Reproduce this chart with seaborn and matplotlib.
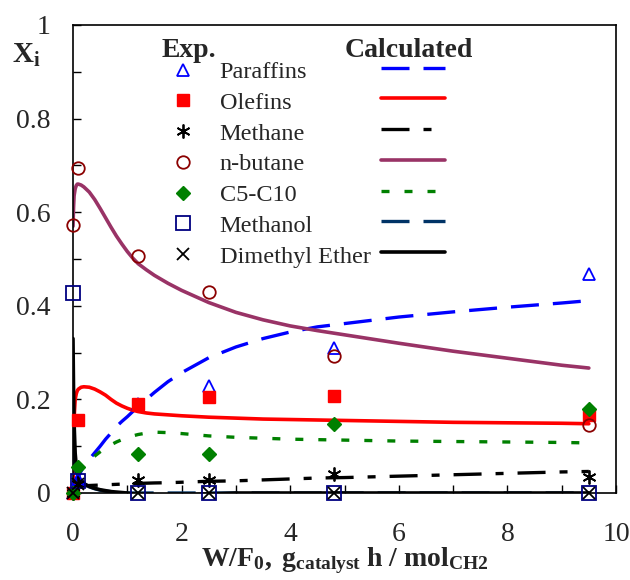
import matplotlib
matplotlib.use("Agg")
import matplotlib.pyplot as plt
from matplotlib.lines import Line2D
from matplotlib.ticker import MultipleLocator, FuncFormatter
import seaborn as sns
import pandas as pd

# ---------------- data ----------------
species = ["Paraffins", "Olefins", "Methane", "n-butane", "C5-C10", "Methanol", "Dimethyl Ether"]

# experimental points
x_exp = [0.0, 0.1, 1.2, 2.5, 4.8, 9.5]
exp_paraffins = [0.0, 0.03, 0.19, 0.229, 0.31, 0.468]
exp_olefins = [0.0, 0.155, 0.19, 0.205, 0.207, 0.167]
exp_methane = [0.0, 0.02, 0.028, 0.028, 0.04, 0.034]
exp_nbutane = [0.573, 0.694, 0.506, 0.43, 0.293, 0.145]
exp_c5c10 = [0.0, 0.055, 0.083, 0.083, 0.147, 0.18]
exp_methanol = [0.427, 0.025, 0.0, 0.0, 0.0, 0.0]
exp_dme = [0.0, 0.02, 0.0, 0.0, 0.0, 0.0]

# calculated curves
x_calc = [0, 0.01, 0.02, 0.04, 0.06, 0.08, 0.1, 0.15, 0.2, 0.3, 0.4, 0.5, 0.6, 0.7, 0.8, 0.9,
          1.0, 1.1, 1.2, 1.35, 1.5, 1.75, 2.0,
          2.5, 3.0, 3.5, 4.0, 4.5, 5.0, 6.0, 7.0, 8.0, 9.0, 9.5]
calc_paraffins = [0, 0.006, 0.012, 0.02, 0.026, 0.031, 0.035, 0.047, 0.057, 0.072, 0.086, 0.1,
                  0.115, 0.128, 0.142, 0.153, 0.163, 0.174, 0.185, 0.2, 0.215, 0.238, 0.257,
                  0.289, 0.312, 0.330, 0.344, 0.355, 0.362, 0.376, 0.387, 0.397, 0.406, 0.411]
calc_olefins = [0, 0.11, 0.16, 0.2, 0.212, 0.219, 0.222, 0.226, 0.227, 0.226, 0.222, 0.216,
                0.209, 0.2, 0.192, 0.186, 0.181, 0.177, 0.174, 0.171, 0.169, 0.167, 0.165,
                0.162, 0.160, 0.158, 0.157, 0.156, 0.155, 0.153, 0.151, 0.150, 0.149, 0.148]
calc_methane = [0, 0.003, 0.006, 0.009, 0.011, 0.012, 0.013, 0.014, 0.015, 0.016, 0.0165, 0.017,
                0.0175, 0.018, 0.0185, 0.019, 0.0195, 0.02, 0.0205, 0.021, 0.0215, 0.022, 0.023,
                0.025, 0.026, 0.028, 0.030, 0.032, 0.033, 0.036, 0.039, 0.042, 0.045, 0.046]
calc_nbutane = [0.57, 0.61, 0.635, 0.65, 0.657, 0.66, 0.66, 0.658, 0.654, 0.643, 0.627, 0.608,
                0.588, 0.568, 0.549, 0.532, 0.516, 0.502, 0.49, 0.477, 0.465, 0.448, 0.433,
                0.407, 0.386, 0.37, 0.357, 0.347, 0.338, 0.32, 0.303, 0.288, 0.273, 0.267]
calc_c5c10 = [0, 0.02, 0.03, 0.04, 0.047, 0.052, 0.055, 0.059, 0.063, 0.07, 0.079, 0.088,
              0.096, 0.103, 0.109, 0.114, 0.118, 0.122, 0.125, 0.128, 0.13, 0.129, 0.127,
              0.122, 0.119, 0.117, 0.115, 0.114, 0.113, 0.111, 0.110, 0.109, 0.108, 0.107]
calc_methanol = [0.1, 0.08, 0.065, 0.05, 0.042, 0.035, 0.03, 0.024, 0.02, 0.013, 0.009, 0.006,
                 0.004, 0.003, 0.002, 0.001, 0, 0, 0, 0, 0, 0, 0,
                 0, 0, 0, 0, 0, 0, 0, 0, 0, 0, 0]
calc_dme = [0.33, 0.22, 0.15, 0.085, 0.058, 0.043, 0.035, 0.025, 0.02, 0.014, 0.01, 0.007,
            0.005, 0.003, 0.002, 0.001, 0, -0.002, -0.003, -0.004, -0.005, -0.005, -0.005,
            -0.002, 0, 0, 0, 0, 0, 0, 0, 0, 0, 0]

# ---------------- styles ----------------
sns.set_style("ticks")
plt.rcParams["font.family"] = ["Liberation Serif", "DejaVu Serif"]
plt.rcParams["mathtext.fontset"] = "custom"
plt.rcParams["mathtext.rm"] = "Liberation Serif"
plt.rcParams["mathtext.bf"] = "Liberation Serif:bold"
plt.rcParams["mathtext.it"] = "Liberation Serif:italic"

exp_data = [exp_paraffins, exp_olefins, exp_methane, exp_nbutane, exp_c5c10, exp_methanol, exp_dme]
calc_data = [calc_paraffins, calc_olefins, calc_methane, calc_nbutane, calc_c5c10, calc_methanol, calc_dme]

marker_styles = [
    dict(marker="^", markersize=9, markerfacecolor="none", markeredgecolor="#0000FF", markeredgewidth=1.3),
    dict(marker="s", markersize=9, markerfacecolor="#FF0000", markeredgecolor="#FF0000", markeredgewidth=1.0),
    dict(marker=(6, 2, 0), markersize=10, markerfacecolor="none", markeredgecolor="black", markeredgewidth=1.3),
    dict(marker="o", markersize=9, markerfacecolor="none", markeredgecolor="#8B0000", markeredgewidth=1.3),
    dict(marker="D", markersize=7.5, markerfacecolor="#008000", markeredgecolor="#008000", markeredgewidth=1.0),
    dict(marker="s", markersize=10, markerfacecolor="none", markeredgecolor="#000080", markeredgewidth=1.3),
    dict(marker="x", markersize=9, markerfacecolor="none", markeredgecolor="black", markeredgewidth=1.3),
]
line_styles = [
    dict(color="#0000FF", lw=2.4, linestyle=(0, (8.4, 4.2))),
    dict(color="#FF0000", lw=2.6, linestyle="-"),
    dict(color="black", lw=2.4, linestyle=(0, (8.4, 4.2, 2.4, 4.2))),
    dict(color="#993366", lw=2.6, linestyle="-"),
    dict(color="#008000", lw=2.4, linestyle=(0, (2.4, 4.5))),
    dict(color="#003366", lw=2.4, linestyle=(0, (8.4, 4.2))),
    dict(color="black", lw=2.6, linestyle="-"),
]

fig = plt.figure(figsize=(6.3, 5.8), dpi=100)
ax = fig.add_axes([73 / 630, 1 - 493 / 580, 543 / 630, 468 / 580])

# calculated curves
for name, yv, st in zip(species, calc_data, line_styles):
    df = pd.DataFrame({"x": x_calc, "y": yv})
    sns.lineplot(data=df, x="x", y="y", ax=ax, sort=False, estimator=None,
                 color=st["color"], lw=st["lw"], linestyle=st["linestyle"], zorder=2)

# experimental points
for name, yv, st in zip(species, exp_data, marker_styles):
    df = pd.DataFrame({"x": x_exp, "y": yv})
    sns.lineplot(data=df, x="x", y="y", ax=ax, sort=False, estimator=None,
                 linestyle="none", zorder=3, clip_on=False, **st)

ax.set_xlim(0, 10)
ax.set_ylim(0, 1)
ax.xaxis.set_major_locator(MultipleLocator(2))
ax.xaxis.set_minor_locator(MultipleLocator(1))
ax.yaxis.set_major_locator(MultipleLocator(0.2))
ax.yaxis.set_minor_locator(MultipleLocator(0.1))
fmt = FuncFormatter(lambda v, p: "%g" % round(v, 3))
ax.xaxis.set_major_formatter(fmt)
ax.yaxis.set_major_formatter(fmt)
ax.tick_params(which="both", direction="in", length=6, width=1.0, color="black",
               top=False, right=False)
ax.tick_params(axis="x", which="major", labelsize=20, pad=21)
ax.tick_params(axis="y", which="major", labelsize=20, pad=16)
for s in ax.spines.values():
    s.set_linewidth(1.2)
    s.set_color("black")

ax.set_xlabel(r"$\mathbf{W/F_0,\ g_{catalyst}\ h\ /\ mol_{CH2}}$", fontsize=20, labelpad=-1)
ax.set_ylabel(r"$\mathbf{X_i}$", fontsize=21, rotation=0, ha="left", va="baseline")
ax.yaxis.set_label_coords(-0.112, (493 - 63) / 468)

# legends
fs = 17.5
exp_handles = [Line2D([], [], linestyle="none", **st) for st in marker_styles]
leg1 = ax.legend(exp_handles, species, loc="upper left",
                 bbox_to_anchor=(171 / 630, 1 - 61 / 580), bbox_transform=fig.transFigure,
                 frameon=False, fontsize=fs, handlelength=1.0, handletextpad=1.0,
                 labelspacing=0.36, borderpad=0, borderaxespad=0, numpoints=1)
ax.add_artist(leg1)
calc_handles = [Line2D([], [], **st) for st in line_styles]
leg2 = ax.legend(calc_handles, [""] * len(species), loc="upper left",
                 bbox_to_anchor=(381 / 630, 1 - 59 / 580), bbox_transform=fig.transFigure,
                 frameon=False, fontsize=fs, handlelength=2.63, handletextpad=0,
                 labelspacing=0.36, borderpad=0, borderaxespad=0)

fig.text(162 / 630, 1 - 57 / 580, "Exp.", fontsize=20, fontweight="bold", ha="left", va="baseline")
fig.text(345 / 630, 1 - 57 / 580, "Calculated", fontsize=20, fontweight="bold", ha="left", va="baseline")

fig.savefig("out.png", dpi=100)
